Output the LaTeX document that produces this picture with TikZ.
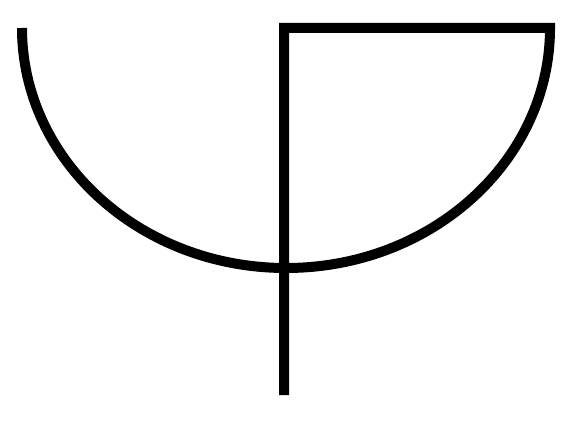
\documentclass[tikz,border=0pt]{standalone}
\usepackage{tikz}
\usetikzlibrary{positioning}

\begin{document}
\begin{tikzpicture}[x=0.02cm,y=-0.02cm]

  \tikzstyle{stroke}=[draw=black,line width=0.2cm,line join=miter]

  \useasboundingbox (0,0) rectangle (573,425);

  % stem, top bar and bowl
  \coordinate (foot) at (284,395);
  \coordinate (corner) at (284,28);
  \coordinate (rim) at (550,28);

  \draw[stroke] (foot) -- (corner) -- (rim)
    arc[start angle=0,end angle=180,x radius=264,y radius=240];

\end{tikzpicture}
\end{document}
